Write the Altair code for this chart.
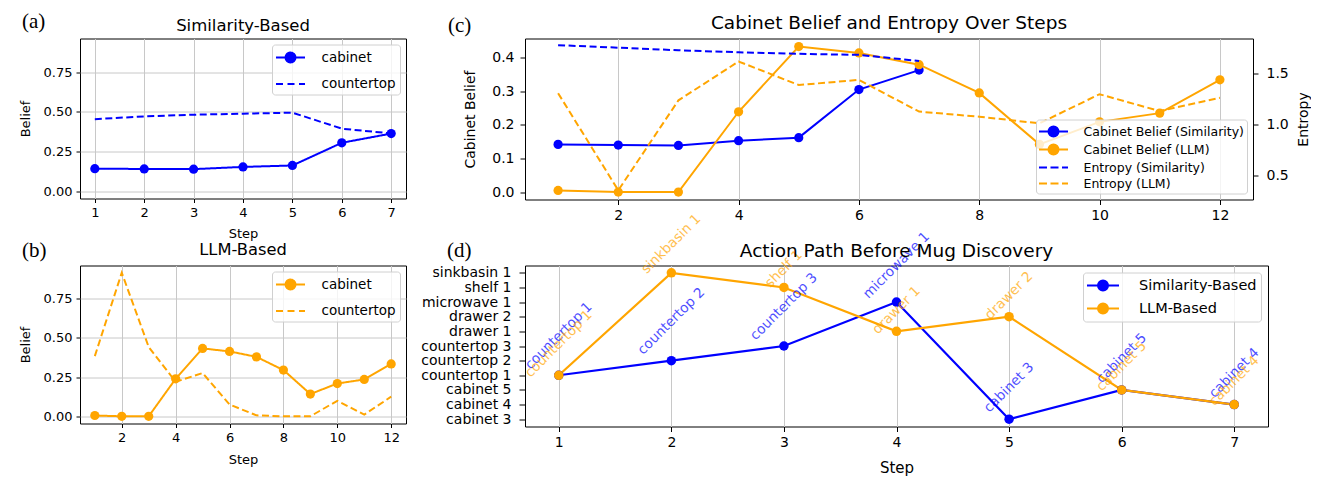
import math
import altair as alt
import pandas as pd

BLUE = "#0000ff"
ORANGE = "#ffa500"
FONT = "DejaVu Sans"
SERIF = "Liberation Serif"
DASH = [7, 3.5]

# ---------------- data ----------------
steps_sim = [1, 2, 3, 4, 5, 6, 7]
steps_llm = [1, 2, 3, 4, 5, 6, 7, 8, 9, 10, 11, 12]

sim_cabinet = [0.142, 0.140, 0.139, 0.153, 0.162, 0.305, 0.363]
sim_countertop = [0.454, 0.471, 0.482, 0.488, 0.495, 0.394, 0.364]
llm_cabinet = [0.005, 0.0, 0.0, 0.239, 0.433, 0.414, 0.379, 0.295, 0.142, 0.209, 0.235, 0.334]
llm_countertop = [0.384, 0.916, 0.442, 0.22, 0.276, 0.075, 0.006, 0.0, 0.0, 0.099, 0.011, 0.125]
sim_entropy = [1.78, 1.755, 1.73, 1.71, 1.695, 1.685, 1.625]
llm_entropy = [1.31, 0.36, 1.24, 1.62, 1.39, 1.44, 1.13, 1.08, 1.015, 1.30, 1.135, 1.265]

locations = ["sinkbasin 1", "shelf 1", "microwave 1", "drawer 2", "drawer 1",
             "countertop 3", "countertop 2", "countertop 1", "cabinet 5", "cabinet 4", "cabinet 3"]
sim_path = ["countertop 1", "countertop 2", "countertop 3", "microwave 1", "cabinet 3", "cabinet 5", "cabinet 4"]
llm_path = ["countertop 1", "sinkbasin 1", "shelf 1", "drawer 1", "drawer 2", "cabinet 5", "cabinet 4"]

ab_series = ["cabinet", "countertop"]
c_series = ["Cabinet Belief (Similarity)", "Cabinet Belief (LLM)", "Entropy (Similarity)", "Entropy (LLM)"]
d_series = ["Similarity-Based", "LLM-Based"]

titles = ["Similarity-Based", "LLM-Based", "Cabinet Belief and Entropy Over Steps", "Action Path Before Mug Discovery"]
panel_tags = ["(a)", "(b)", "(c)", "(d)"]


def long(steps, pairs):
    rows = []
    for name, vals in pairs:
        for s, v in zip(steps, vals):
            rows.append({"step": s, "value": v, "series": name})
    return pd.DataFrame(rows)


df_a = long(steps_sim, [("cabinet", sim_cabinet), ("countertop", sim_countertop)])
df_b = long(steps_llm, [("cabinet", llm_cabinet), ("countertop", llm_countertop)])
df_c_belief = pd.concat([long(steps_sim, [(c_series[0], sim_cabinet)]),
                         long(steps_llm, [(c_series[1], llm_cabinet)])], ignore_index=True)
df_c_entropy = pd.concat([long(steps_sim, [(c_series[2], sim_entropy)]),
                          long(steps_llm, [(c_series[3], llm_entropy)])], ignore_index=True)
df_d = pd.concat([pd.DataFrame({"step": steps_sim, "loc": sim_path, "series": d_series[0]}),
                  pd.DataFrame({"step": steps_sim, "loc": llm_path, "series": d_series[1]})],
                 ignore_index=True)

# ---------------- legend helpers ----------------
UNIT = 8.0            # legend symbol size 256 -> 8 px per path unit
SYM_SIZE = UNIT * UNIT * 4


def circle_line(half_px, r_px, n=16):
    h, r = half_px / UNIT, r_px / UNIT
    pts = ["%.4f,%.4f" % (r * math.cos(2 * math.pi * k / n), r * math.sin(2 * math.pi * k / n)) for k in range(n)]
    return "M%.4f,0L%.4f,0M" % (-h, h) + "L".join(pts) + "Z"


def dash_line(half_px, dash=8.0, gap=3.5):
    segs, pos = [], -half_px
    while pos < half_px:
        end = min(pos + dash, half_px)
        segs.append("M%.4f,0L%.4f,0" % (pos / UNIT, end / UNIT))
        pos = end + gap
    return "".join(segs)


def make_legend(half_px, fsize, row_pad, pad, label_gap, orient, offset):
    slot = max(math.ceil(2 * UNIT + 2), fsize)
    return alt.Legend(title=None, orient=orient, offset=offset, symbolSize=SYM_SIZE,
                      symbolOffset=half_px - slot / 2, labelOffset=2 * half_px + label_gap - slot,
                      symbolStrokeWidth=2, symbolOpacity=1, labelFont=FONT, labelFontSize=fsize,
                      labelColor="black", labelLimit=400, rowPadding=row_pad, padding=pad,
                      strokeColor="#d0d0d0", fillColor="rgba(255,255,255,0.8)", cornerRadius=3)


def legend_carrier(series, colors, shapes, leg):
    # invisible marks that only feed the legend with per-entry fill colour and symbol shape
    return alt.Chart(pd.DataFrame({"series": series})).mark_point(filled=True, opacity=0).encode(
        fill=alt.Fill("series:N", scale=alt.Scale(domain=series, range=colors), legend=leg),
        shape=alt.Shape("series:N", scale=alt.Scale(domain=series, range=shapes), legend=leg),
    )


def text_at(text, x, y, font, size, align):
    return alt.Chart(pd.DataFrame({"t": [text]})).mark_text(
        font=font, fontSize=size, align=align, baseline="middle", color="black"
    ).encode(text="t:N", x=alt.value(x), y=alt.value(y))


# ---------------- (a) / (b) ----------------
def belief_panel(df, xdom, xticks, title, color, label, leg, title_y, xtitle_y, label_y, height, tsize):
    x = alt.X("step:Q", scale=alt.Scale(domain=xdom, nice=False, zero=False),
              axis=alt.Axis(values=xticks, format="d", title="Step", titleFontSize=13, labelFontSize=13,
                            titleY=xtitle_y, titleBaseline="middle", grid=True, tickSize=4, labelPadding=4))
    y = alt.Y("value:Q", scale=alt.Scale(domain=[-0.046, 0.962], nice=False, zero=False),
              axis=alt.Axis(values=[0, 0.25, 0.5, 0.75], format=".2f", title="Belief", titleFontSize=13,
                            labelFontSize=13, titleX=-55, titleBaseline="middle", grid=True,
                            tickSize=4, labelPadding=4))
    base = alt.Chart(df)
    carrier = legend_carrier(ab_series, [color, color], [circle_line(14.5, 5), dash_line(14.5)], leg)
    lines = base.mark_line(strokeWidth=2).encode(
        x=x, y=y,
        stroke=alt.Stroke("series:N", scale=alt.Scale(domain=ab_series, range=[color, color]), legend=leg),
        strokeDash=alt.StrokeDash("series:N", scale=alt.Scale(domain=ab_series, range=[[1, 0], DASH]),
                                  legend=None),
    )
    pts = base.transform_filter(alt.datum.series == "cabinet").mark_point(
        filled=True, size=85, opacity=1, color=color).encode(x=x, y=y)
    return alt.layer(carrier, lines, pts, text_at(label, -58, label_y, SERIF, 21, "left"),
                     text_at(title, 163, title_y, FONT, tsize, "center")).properties(width=326, height=height)


leg_a = make_legend(14.5, 13.5, 8.5, 4, 11, "top-right", 6)
leg_b = make_legend(14.5, 13.5, 8.5, 4, 11, "top-right", 6)

chart_a = belief_panel(df_a, [0.7, 7.3], steps_sim, titles[0], BLUE, panel_tags[0], leg_a, -13, 35, -17, 160, 16.5)
chart_b = belief_panel(df_b, [0.45, 12.55], [2, 4, 6, 8, 10, 12], titles[1], ORANGE, panel_tags[1], leg_b,
                       -15.5, 36, -15, 158, 16.3)

# ---------------- (c) ----------------
leg_c = make_legend(14.5, 12.5, 0, 3, 10, "bottom-right", 6)
c_colors = [BLUE, ORANGE, BLUE, ORANGE]
xc = alt.X("step:Q", scale=alt.Scale(domain=[0.45, 12.55], nice=False, zero=False),
           axis=alt.Axis(values=[2, 4, 6, 8, 10, 12], format="d", title=None, labelFontSize=14, grid=True,
                         tickSize=5, labelPadding=4))
yc = alt.Y("value:Q", scale=alt.Scale(domain=[-0.022, 0.457], nice=False, zero=False),
           axis=alt.Axis(values=[0, 0.1, 0.2, 0.3, 0.4], format=".1f", title="Cabinet Belief", titleFontSize=14,
                         labelFontSize=14, titleX=-55, titleBaseline="middle", grid=False, tickSize=5,
                         labelPadding=6))
ye = alt.Y("value:Q", scale=alt.Scale(domain=[0.27, 1.845], nice=False, zero=False),
           axis=alt.Axis(orient="right", values=[0.5, 1.0, 1.5], format=".1f", title="Entropy", titleFontSize=14,
                         labelFontSize=14, titleX=50, titleAngle=270, titleBaseline="middle", grid=False,
                         tickSize=5, labelPadding=8))
stroke_c = alt.Stroke("series:N", scale=alt.Scale(domain=c_series, range=c_colors), legend=leg_c)
c_carrier = legend_carrier(c_series, c_colors,
                           [circle_line(14.5, 5), circle_line(14.5, 5), dash_line(14.5), dash_line(14.5)], leg_c)
c_lines = alt.Chart(df_c_belief).mark_line(strokeWidth=2).encode(x=xc, y=yc, stroke=stroke_c)
c_pts = alt.Chart(df_c_belief).mark_point(filled=True, size=85, opacity=1).encode(
    x=xc, y=yc,
    color=alt.Color("series:N", scale=alt.Scale(domain=c_series[:2], range=[BLUE, ORANGE]), legend=None))
c_ent = alt.Chart(df_c_entropy).mark_line(strokeWidth=2, strokeDash=DASH).encode(x=xc, y=ye, stroke=stroke_c)
chart_c = alt.layer(c_carrier, alt.layer(c_lines, c_pts), c_ent,
                    text_at(panel_tags[2], -77, -13, SERIF, 21, "left"),
                    text_at(titles[2], 364, -15.3, FONT, 18.5, "center")).resolve_scale(
    y="independent").properties(width=728, height=161)

# ---------------- (d) ----------------
leg_d = make_legend(16, 14.5, 5, 4, 13, "top-right", 7)
d_colors = [BLUE, ORANGE]
xd = alt.X("step:Q", scale=alt.Scale(domain=[0.7, 7.3], nice=False, zero=False),
           axis=alt.Axis(values=steps_sim, format="d", title="Step", titleFontSize=15, labelFontSize=14,
                         titleY=41, titleBaseline="middle", grid=True, tickSize=5, labelPadding=4))
yd = alt.Y("loc:N", scale=alt.Scale(domain=locations, padding=0.5),
           axis=alt.Axis(title=None, labelFontSize=14, labelOverlap=False, labelPadding=8, grid=False,
                         tickSize=6))
d_carrier = legend_carrier(d_series, d_colors, [circle_line(16, 5), circle_line(16, 5)], leg_d)
d_lines = alt.Chart(df_d).mark_line(strokeWidth=2.2).encode(
    x=xd, y=yd, order=alt.Order("step:Q"),
    stroke=alt.Stroke("series:N", scale=alt.Scale(domain=d_series, range=d_colors), legend=leg_d))
d_pts = alt.Chart(df_d).mark_point(filled=True, size=90, opacity=1).encode(
    x=xd, y=yd,
    color=alt.Color("series:N", scale=alt.Scale(domain=d_series, range=d_colors), legend=None))


def annotations(series, color, off):
    e = f"({0.707 * off:.2f} + 0.25*(length(datum.loc)*7.3 + 15))"
    return alt.Chart(df_d).transform_filter(alt.datum.series == series).mark_text(
        angle=315, font=FONT, fontSize=13.7, color=color, opacity=0.7, align="center", baseline="middle",
        dx={"expr": e}, dy={"expr": "-" + e}
    ).encode(x=xd, y=yd, text="loc:N")


chart_d = alt.layer(d_carrier, d_lines, d_pts, annotations(d_series[0], BLUE, 3),
                    annotations(d_series[1], ORANGE, -5),
                    text_at(panel_tags[3], -78, -15, SERIF, 21, "left"),
                    text_at(titles[3], 371.5, -15, FONT, 18.5, "center")).properties(width=743, height=161)

# ---------------- assemble ----------------
chart = alt.concat(chart_a, chart_c, chart_b, chart_d, columns=2,
                   spacing={"row": 66, "column": 119}, bounds="flush", align="each").resolve_scale(
    x="independent", y="independent", stroke="independent", fill="independent",
    strokeDash="independent", shape="independent", color="independent"
).resolve_legend(stroke="independent", fill="independent", shape="independent").properties(
    padding={"left": 10, "top": 1.5, "right": 0, "bottom": 0}
).configure(font=FONT).configure_view(stroke="black", strokeWidth=1).configure_axis(
    labelFont=FONT, titleFont=FONT, labelColor="black", titleColor="black", tickColor="black",
    domain=False, gridColor="#c8c8c8", gridWidth=1, titleFontWeight="normal"
)

chart.save("out.html", embed_options={"renderer": "svg", "actions": False})
